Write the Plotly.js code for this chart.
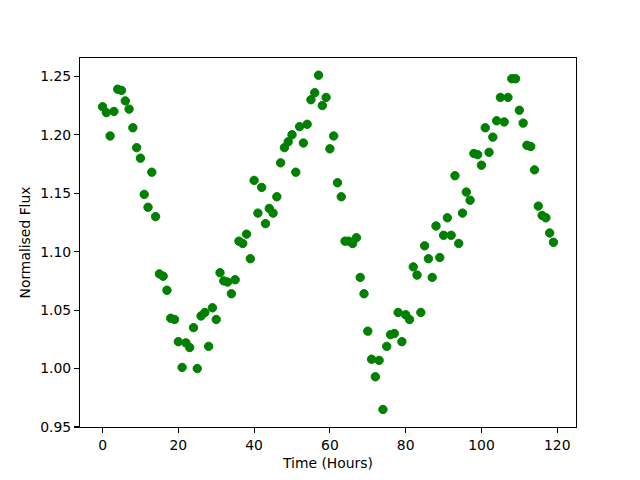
<!DOCTYPE html>
<html>
<head>
<meta charset="utf-8">
<script src="https://cdn.plot.ly/plotly-3.0.1.min.js"></script>
<style>html,body{margin:0;padding:0;background:#fff;}#chart{width:640px;height:480px;}</style>
</head>
<body>
<div id="chart"></div>
<script>
// Time in hours
var hours = [];
for (var i = 0; i < 120; i++) hours.push(i);

// Normalised flux values
var flux = [
  1.224, 1.219, 1.199, 1.220, 1.239, 1.238, 1.229, 1.222, 1.206, 1.189,
  1.180, 1.149, 1.138, 1.168, 1.130, 1.081, 1.079, 1.067, 1.043, 1.042,
  1.023, 1.001, 1.022, 1.018, 1.035, 1.000, 1.045, 1.048, 1.019, 1.052,
  1.042, 1.082, 1.075, 1.074, 1.064, 1.076, 1.109, 1.107, 1.115, 1.094,
  1.161, 1.133, 1.155, 1.124, 1.137, 1.133, 1.147, 1.176, 1.189, 1.194,
  1.200, 1.168, 1.207, 1.193, 1.209, 1.230, 1.236, 1.251, 1.225, 1.232,
  1.188, 1.199, 1.159, 1.147, 1.109, 1.109, 1.107, 1.112, 1.078, 1.064,
  1.032, 1.008, 0.993, 1.007, 0.965, 1.019, 1.029, 1.030, 1.048, 1.023,
  1.046, 1.042, 1.087, 1.080, 1.048, 1.105, 1.094, 1.078, 1.122, 1.095,
  1.114, 1.129, 1.114, 1.165, 1.107, 1.133, 1.151, 1.144, 1.184, 1.183,
  1.174, 1.206, 1.185, 1.198, 1.212, 1.232, 1.211, 1.232, 1.248, 1.248,
  1.221, 1.210, 1.191, 1.190, 1.170, 1.139, 1.131, 1.129, 1.116, 1.108
];

var xTicks = [0, 20, 40, 60, 80, 100, 120];
var yTicks = [0.95, 1.00, 1.05, 1.10, 1.15, 1.20, 1.25];

var font = {family: 'DejaVu Sans, sans-serif', size: 13.9, color: '#000'};

var trace = {
  x: hours,
  y: flux,
  type: 'scatter',
  mode: 'markers',
  marker: {color: '#008000', size: 8.4, line: {color: '#008000', width: 1}},
  hoverinfo: 'x+y'
};

var layout = {
  width: 640,
  height: 480,
  paper_bgcolor: '#fff',
  plot_bgcolor: '#fff',
  margin: {l: 80, r: 64, t: 58, b: 53, pad: 0},
  showlegend: false,
  font: font,
  xaxis: {
    range: [-5.95, 124.95],
    tickvals: xTicks,
    ticktext: xTicks.map(String),
    ticks: 'outside', ticklen: 4.9, tickwidth: 1.1, tickcolor: '#000',
    showline: true, linecolor: '#000', linewidth: 1.1, mirror: true,
    showgrid: false, zeroline: false,
    tickfont: font,
    title: {text: 'Time (Hours)', font: font, standoff: 6},
    automargin: false
  },
  yaxis: {
    range: [0.9500, 1.2657],
    tickvals: yTicks,
    ticktext: yTicks.map(function (v) { return v.toFixed(2); }),
    ticks: 'outside', ticklen: 4.9, tickwidth: 1.1, tickcolor: '#000',
    showline: true, linecolor: '#000', linewidth: 1.1, mirror: true,
    showgrid: false, zeroline: false,
    tickfont: font,
    title: {text: 'Normalised Flux', font: font, standoff: 6},
    automargin: false
  }
};

Plotly.newPlot('chart', [trace], layout, {displayModeBar: false, staticPlot: true});
</script>
</body>
</html>
